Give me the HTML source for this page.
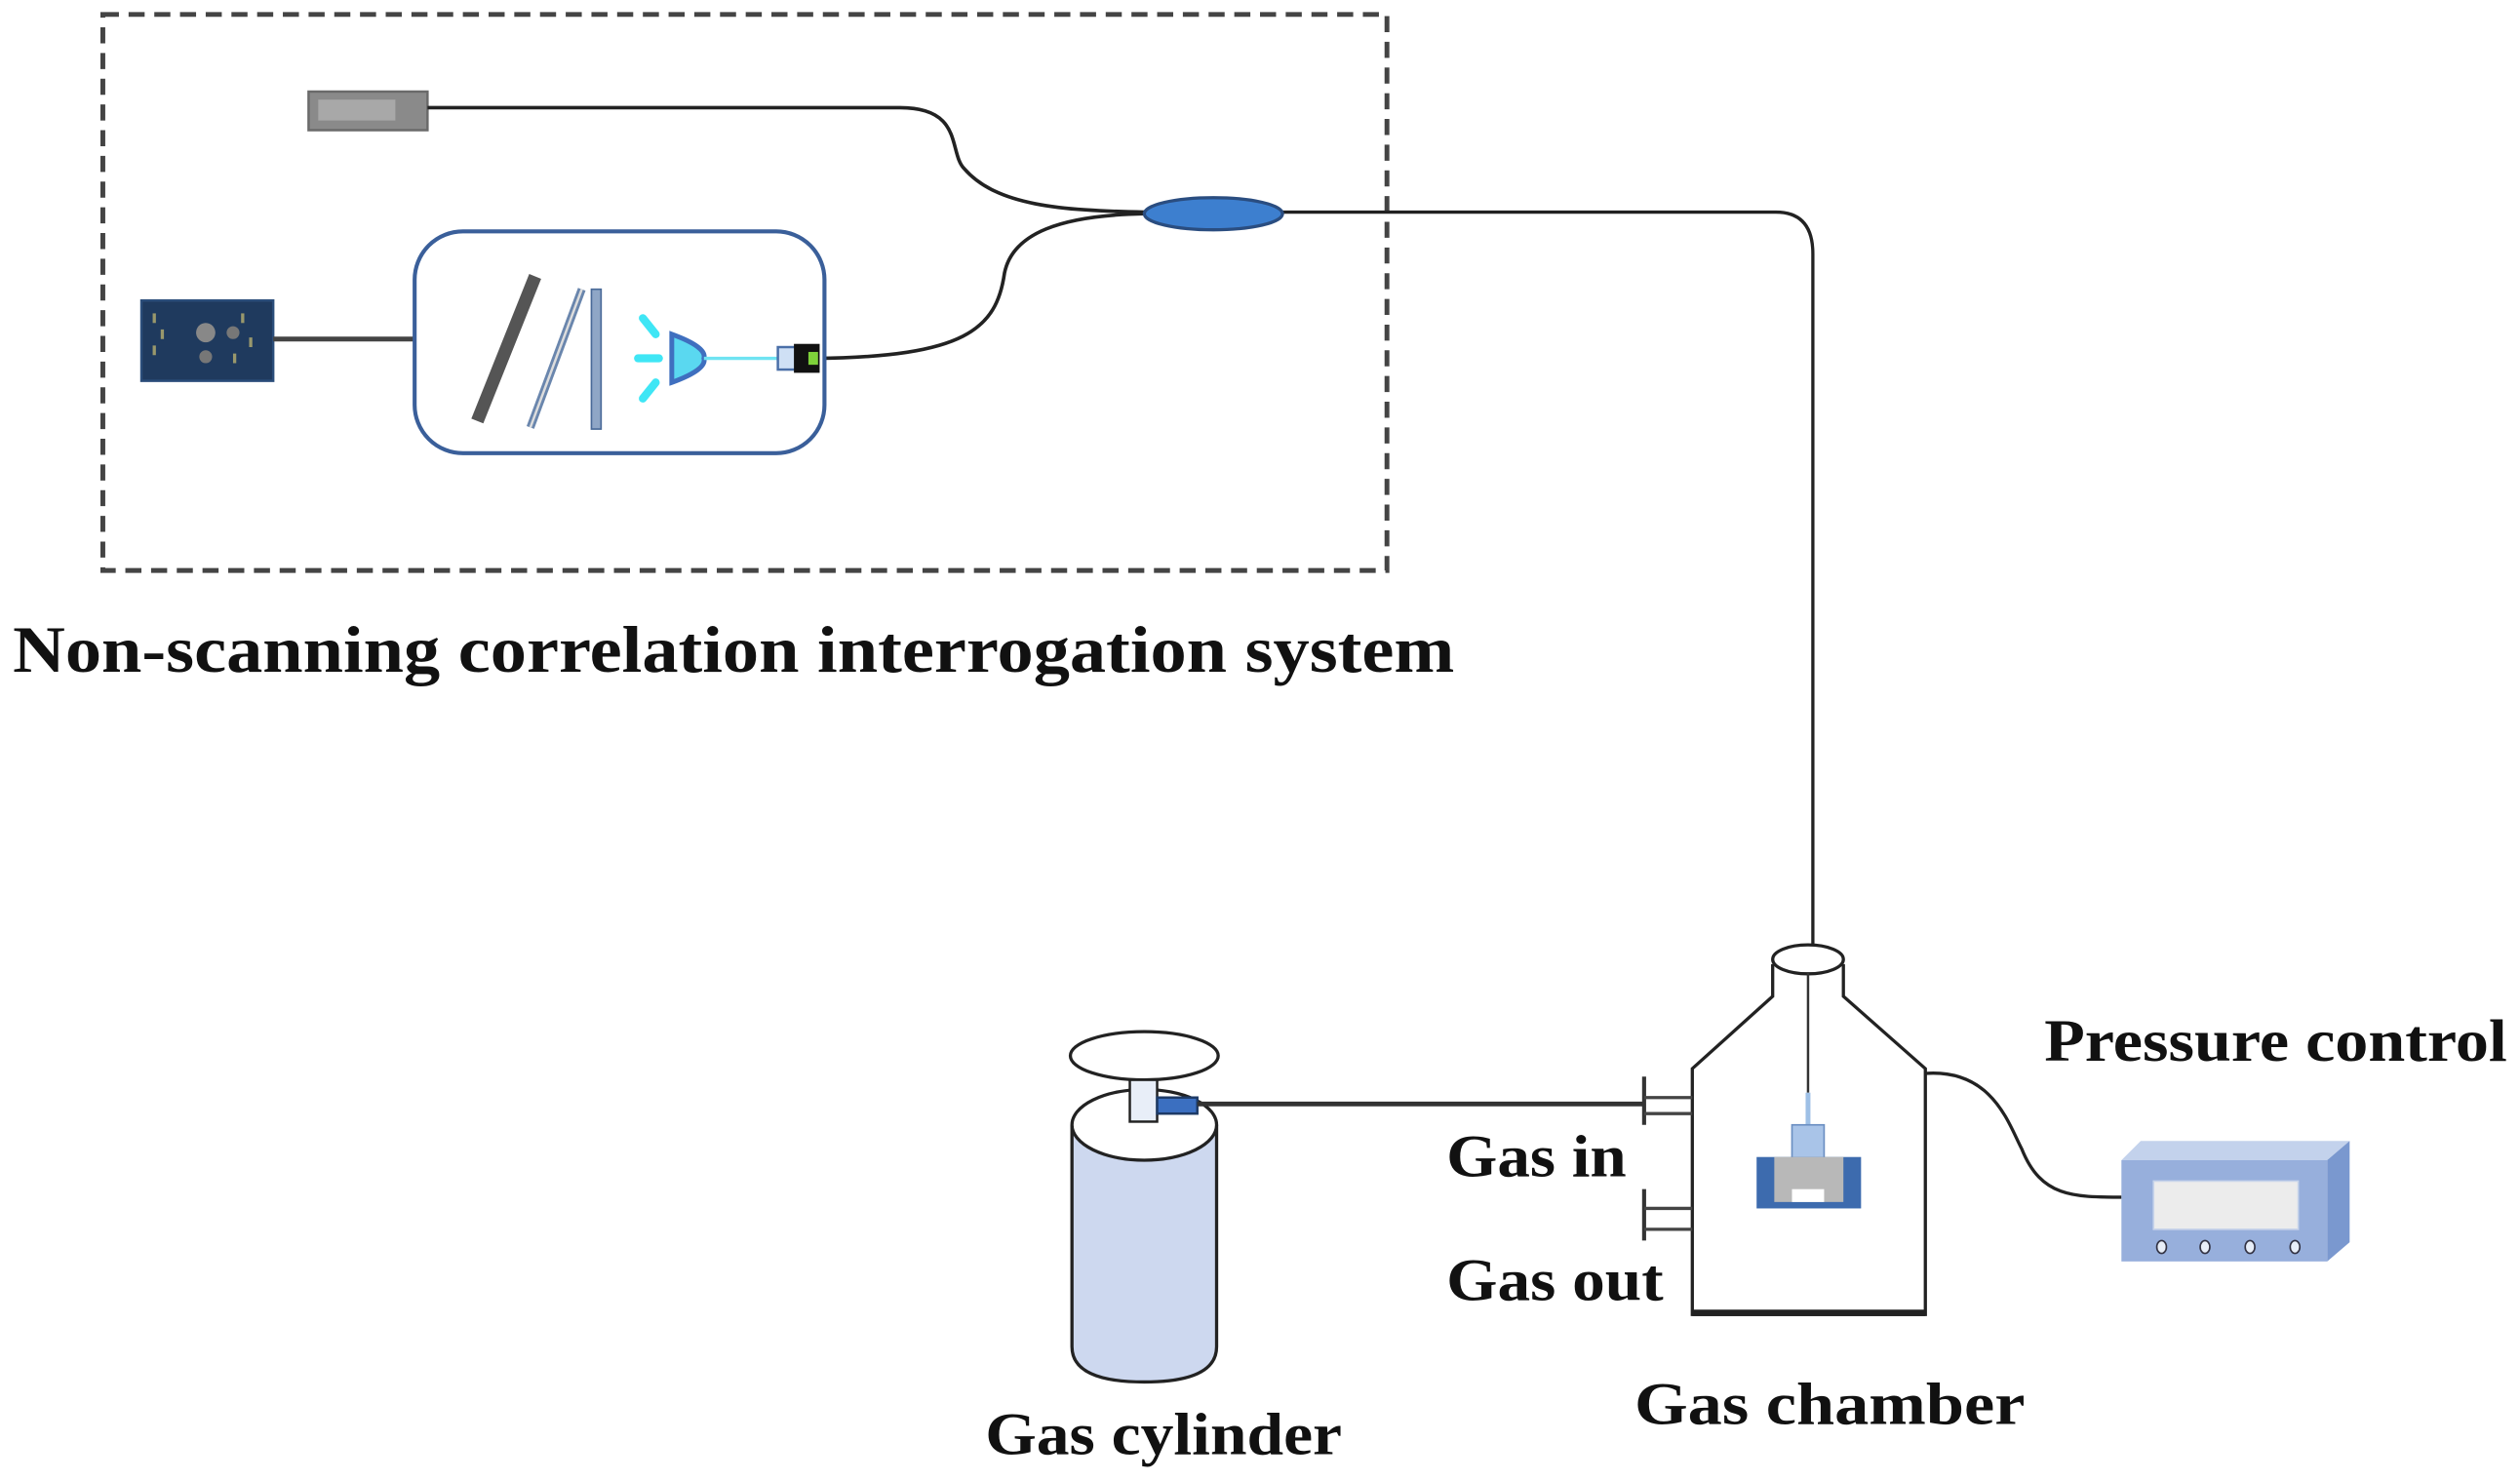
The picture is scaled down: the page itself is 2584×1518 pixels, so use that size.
<!DOCTYPE html>
<html><head><meta charset="utf-8"><style>
html,body{margin:0;padding:0;background:#fff}
svg{display:block}
text{font-family:"Liberation Serif",serif;font-weight:bold;fill:#111}
</style></head><body>
<svg width="2584" height="1518" viewBox="0 0 1568 921" preserveAspectRatio="none" xmlns="http://www.w3.org/2000/svg">
<rect x="64" y="9" width="799" height="346" fill="none" stroke="#444" stroke-width="3" stroke-dasharray="10,6"/>
<rect x="192" y="57" width="74" height="24" fill="#8a8a8a" stroke="#6a6a6a" stroke-width="1.5"/>
<rect x="198" y="62" width="48" height="13" fill="#a8a8a8"/>
<path d="M266 67 L560 67 C600 67 590 95 600 105 C620 128 660 131 712 132" fill="none" stroke="#222" stroke-width="2.2"/>
<path d="M712 133 C660 134 630 145 625 170 C620 205 600 222 508 223" fill="none" stroke="#222" stroke-width="2.2"/>
<path d="M798 132 L1105 132 Q1128 132 1128 158 L1128 592" fill="none" stroke="#222" stroke-width="2"/>
<ellipse cx="755" cy="133" rx="43" ry="10" fill="#3d7fcf" stroke="#2a4d80" stroke-width="2"/>
<rect x="88" y="187" width="82" height="50" fill="#1f3a5e" stroke="#2b4d7a" stroke-width="1.5"/>
<g fill="#b8b070" opacity="0.8"><rect x="95" y="195" width="2" height="6"/><rect x="100" y="205" width="2" height="6"/><rect x="95" y="215" width="2" height="6"/><rect x="150" y="195" width="2" height="6"/><rect x="155" y="210" width="2" height="6"/><rect x="145" y="220" width="2" height="6"/></g>
<circle cx="128" cy="207" r="6" fill="#888"/><circle cx="145" cy="207" r="4" fill="#777"/><circle cx="128" cy="222" r="4" fill="#777"/>
<line x1="170" y1="211" x2="258" y2="211" stroke="#444" stroke-width="3"/>
<rect x="258" y="144" width="255" height="138" rx="30" fill="#fff" stroke="#3a5f9a" stroke-width="2.5"/>
<line x1="333" y1="172" x2="297" y2="262" stroke="#555" stroke-width="8"/>
<line x1="362" y1="180" x2="330" y2="266" stroke="#6a86ad" stroke-width="5"/>
<line x1="362" y1="180" x2="330" y2="266" stroke="#ddd" stroke-width="1.5"/>
<rect x="368" y="180" width="6" height="87" fill="#8fa6c6" stroke="#4a6a98" stroke-width="1"/>
<g stroke="#3fe6f5" stroke-width="5" stroke-linecap="round">
<line x1="400" y1="198" x2="408" y2="208"/><line x1="397" y1="223" x2="410" y2="223"/><line x1="400" y1="248" x2="408" y2="238"/>
</g>
<path d="M418 208 L418 238 Q440 230 438 223 Q440 216 418 208 Z" fill="#5ad8f0" stroke="#3f6fbf" stroke-width="3"/>
<line x1="438" y1="223" x2="490" y2="223" stroke="#6fe3f2" stroke-width="2"/>
<rect x="484" y="216" width="12" height="14" fill="#cfe0f5" stroke="#4a6fa8" stroke-width="1.5"/>
<rect x="494" y="214" width="16" height="18" fill="#111"/>
<rect x="503" y="219" width="6" height="8" fill="#7ed23a"/>
<text x="8" y="418" font-size="41" textLength="897" lengthAdjust="spacingAndGlyphs">Non-scanning correlation interrogation system</text>
<path d="M667 700 L667 838 Q667 860 712 860 Q757 860 757 838 L757 700" fill="#cdd8ef" stroke="#222" stroke-width="2"/>
<ellipse cx="712" cy="700" rx="45" ry="22" fill="#fff" stroke="#222" stroke-width="2"/>
<ellipse cx="712" cy="657" rx="46" ry="15" fill="#fff" stroke="#222" stroke-width="2"/>
<rect x="703" y="672" width="17" height="26" fill="#e8eef8" stroke="#222" stroke-width="1.5"/>
<rect x="720" y="683" width="25" height="10" fill="#3b6fc0" stroke="#1d3a66" stroke-width="1.5"/>
<line x1="745" y1="687" x2="1023" y2="687" stroke="#333" stroke-width="3"/>
<path d="M1103 600 L1103 620 L1053 665 L1053 818 L1198 818 L1198 665 L1147 620 L1147 600" fill="#fff" stroke="#222" stroke-width="2"/>
<line x1="1053" y1="817" x2="1198" y2="817" stroke="#222" stroke-width="4"/>
<ellipse cx="1125" cy="597" rx="22" ry="9" fill="#fff" stroke="#222" stroke-width="2"/>
<line x1="1023" y1="670" x2="1023" y2="700" stroke="#333" stroke-width="2.5"/>
<line x1="1023" y1="683" x2="1053" y2="683" stroke="#444" stroke-width="2"/>
<line x1="1023" y1="693" x2="1053" y2="693" stroke="#444" stroke-width="2"/>
<line x1="1023" y1="740" x2="1023" y2="772" stroke="#333" stroke-width="2.5"/>
<line x1="1023" y1="752" x2="1053" y2="752" stroke="#444" stroke-width="2"/>
<line x1="1023" y1="765" x2="1053" y2="765" stroke="#444" stroke-width="2"/>
<line x1="1125" y1="605" x2="1125" y2="680" stroke="#333" stroke-width="1.5"/>
<line x1="1125" y1="680" x2="1125" y2="712" stroke="#9ec0e6" stroke-width="3"/>
<rect x="1115" y="700" width="20" height="26" fill="#a9c4e8" stroke="#6b8fc2" stroke-width="1"/>
<rect x="1093" y="720" width="65" height="32" fill="#3d6bae"/>
<rect x="1104" y="720" width="43" height="28" fill="#b8b8b8"/>
<rect x="1115" y="740" width="20" height="8" fill="#fff"/>
<path d="M1198 668 C1240 665 1250 700 1258 715 C1270 745 1290 745 1320 745" fill="none" stroke="#222" stroke-width="2"/>
<polygon points="1320,722 1332,710 1462,710 1448,722" fill="#c3d2ec"/>
<polygon points="1448,722 1462,710 1462,773 1448,785" fill="#7a98cf"/>
<rect x="1320" y="722" width="128" height="63" fill="#97afdc"/>
<rect x="1340" y="735" width="90" height="30" fill="#ececec" stroke="#c8d4ea" stroke-width="1"/>
<g fill="#e8eef8" stroke="#334" stroke-width="1"><ellipse cx="1345" cy="776" rx="3" ry="4"/><ellipse cx="1372" cy="776" rx="3" ry="4"/><ellipse cx="1400" cy="776" rx="3" ry="4"/><ellipse cx="1428" cy="776" rx="3" ry="4"/></g>
<text x="1272" y="660" font-size="37" textLength="288" lengthAdjust="spacingAndGlyphs">Pressure control</text>
<text x="900" y="732" font-size="37" textLength="112" lengthAdjust="spacingAndGlyphs">Gas in</text>
<text x="900" y="809" font-size="37" textLength="135" lengthAdjust="spacingAndGlyphs">Gas out</text>
<text x="1017" y="886" font-size="37" textLength="243" lengthAdjust="spacingAndGlyphs">Gas chamber</text>
<text x="613" y="905" font-size="37" textLength="222" lengthAdjust="spacingAndGlyphs">Gas cylinder</text>
</svg>
</body></html>
